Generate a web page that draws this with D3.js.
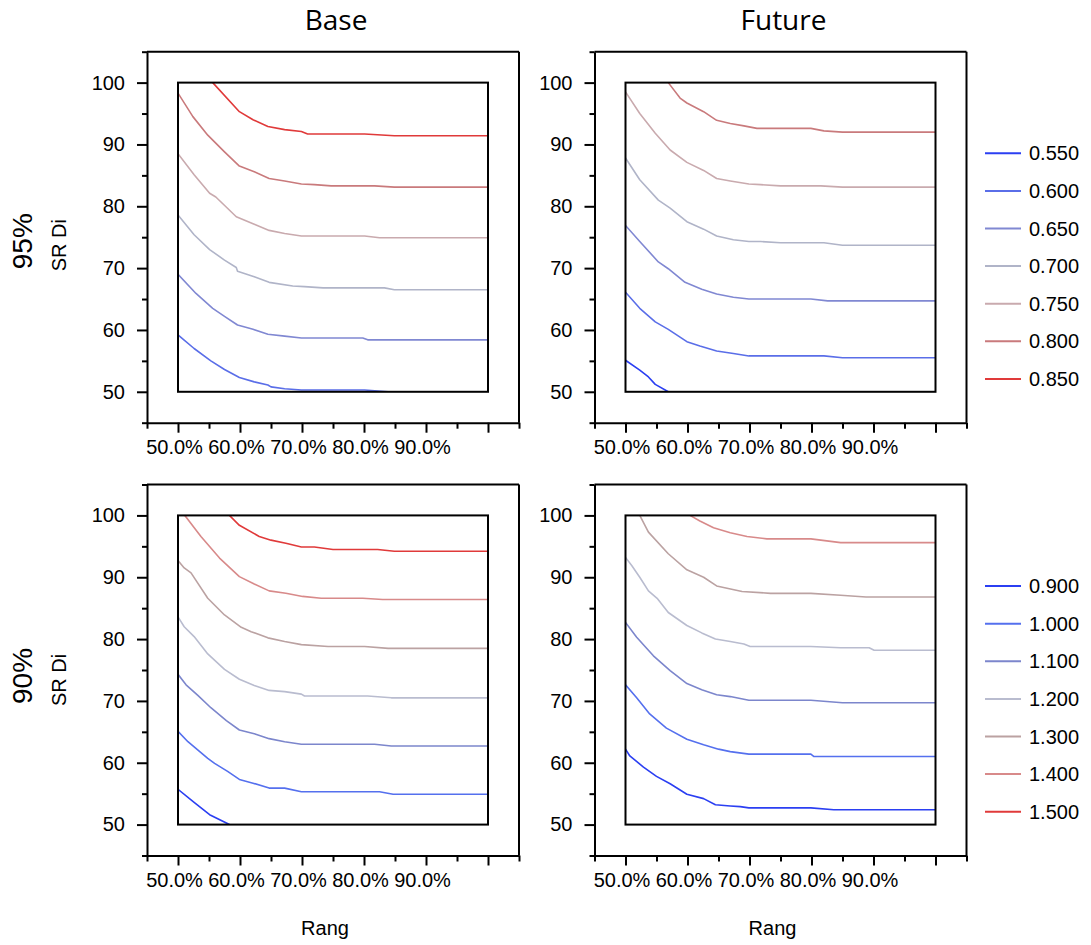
<!DOCTYPE html>
<html>
<head>
<meta charset="utf-8">
<script src="https://cdn.jsdelivr.net/npm/d3@7"></script>
<style>
  html, body { margin: 0; padding: 0; background: #fff; }
  svg { display: block; }
  text { font-family: "Liberation Sans", Arial, sans-serif; fill: #000; }
</style>
</head>
<body>
<svg id="chart" width="1091" height="945"></svg>
<script>
// ---------- DATA ----------
const colTitles = ["Base", "Future"];
const rowTitles = ["95%", "90%"];
const yAxisLabel = "SR Di";
const xAxisLabel = "Rang";

const levels95 = ["0.550", "0.600", "0.650", "0.700", "0.750", "0.800", "0.850"];
const levels90 = ["0.900", "1.000", "1.100", "1.200", "1.300", "1.400", "1.500"];
const colors95 = ["#2b3ff2", "#5a6ee8", "#8088d2", "#b0b4c8", "#c9aaae", "#c97a7c", "#e03a3a"];
const colors90 = ["#2b3ff2", "#5570ee", "#7c86cc", "#b9bccf", "#bba2a2", "#d88a8a", "#e03a3a"];

const yTickValues = [45, 50, 55, 60, 65, 70, 75, 80, 85, 90, 95, 100, 105];
const yTickLabels = [50, 60, 70, 80, 90, 100];
const xTickValues = [45, 50, 55, 60, 65, 70, 75, 80, 85, 90, 95, 100, 105];
const xTickLabels = [50, 60, 70, 80, 90];

// Base, 95%
const base95_0600 = [[50,59.2],[52.6,57.0],[55.3,55.0],[57.5,53.6],[59.9,52.3],[62.3,51.6],[64.5,51.1],[65.0,50.8],[67.2,50.5],[69.9,50.3],[80.1,50.3],[83.9,50.0],[86,50.0]];
const base95_0650 = [[50,69.0],[52.9,65.9],[55.6,63.5],[57.5,62.2],[59.6,60.8],[62.1,60.1],[64.5,59.3],[67.2,59.0],[69.9,58.7],[79.8,58.7],[80.6,58.4],[100,58.4]];
const base95_0700 = [[50,78.6],[52.6,75.4],[55.1,73.0],[57.5,71.3],[59.4,70.1],[59.6,69.5],[62.3,68.6],[64.7,67.7],[68.5,67.1],[70.4,67.0],[73.4,66.8],[83.3,66.8],[84.9,66.5],[100,66.5]];
const base95_0750 = [[50,88.5],[52.6,85.1],[55.1,82.1],[56.1,81.5],[59.4,78.3],[62.3,77.1],[64.7,76.1],[67.2,75.6],[69.9,75.2],[80.1,75.2],[82.5,74.9],[100,74.9]];
const base95_0800 = [[50,98.3],[52.4,94.5],[54.8,91.5],[57.5,88.8],[59.9,86.5],[62.3,85.6],[64.7,84.5],[67.2,84.1],[69.9,83.6],[72.0,83.5],[74.7,83.3],[81.7,83.3],[84.9,83.1],[100,83.1]];
const base95_0850 = [[55.6,100],[59.9,95.3],[62.1,94.0],[64.5,92.9],[67.2,92.4],[69.9,92.1],[70.9,91.7],[80.1,91.7],[84.9,91.4],[100,91.4]];

// Future, 95%
const future95_0550 = [[50,55.1],[52.3,53.5],[53.7,52.4],[54.8,51.2],[56.9,50.0]];
const future95_0600 = [[50,66.1],[52.3,63.5],[54.8,61.3],[56.9,60.1],[59.9,58.1],[62.0,57.4],[64.7,56.6],[67.4,56.2],[69.9,55.8],[82.0,55.8],[85.0,55.5],[100,55.5]];
const future95_0650 = [[50,76.9],[52.3,74.3],[55.3,71.0],[56.9,69.9],[59.6,67.7],[62.3,66.6],[64.7,65.8],[67.4,65.3],[69.9,65.0],[79.9,65.0],[82.6,64.7],[100,64.7]];
const future95_0700 = [[50,87.8],[52.3,84.3],[55.3,81.0],[57.2,79.7],[59.9,77.5],[62.6,76.3],[64.7,75.2],[67.4,74.6],[69.9,74.3],[71.8,74.3],[75.0,74.1],[82.0,74.1],[85.0,73.7],[100,73.7]];
const future95_0750 = [[50,98.5],[52.3,95.0],[54.8,91.8],[57.2,89.1],[59.9,87.1],[62.6,85.8],[64.7,84.5],[66.9,84.1],[69.9,83.6],[71.8,83.5],[75.0,83.3],[81.5,83.3],[85.0,83.1],[100,83.1]];
const future95_0800 = [[56.9,100],[58.8,97.5],[59.9,96.7],[62.6,95.3],[64.7,93.9],[66.9,93.4],[69.1,93.0],[71.2,92.6],[79.9,92.6],[82.0,92.2],[85.0,92.0],[100,92.0]];

// Base, 90%
const base90_0900 = [[50,55.7],[52.6,53.6],[55.1,51.6],[58.3,50.0]];
const base90_1000 = [[50,65.1],[51.6,63.4],[54.8,60.7],[55.9,59.9],[58.0,58.6],[59.9,57.3],[62.1,56.7],[64.7,55.9],[67.2,55.9],[69.9,55.3],[82.5,55.3],[84.7,54.9],[100,54.9]];
const base90_1100 = [[50,74.3],[51.3,72.6],[53.2,70.9],[55.3,68.9],[57.8,66.8],[59.9,65.3],[62.3,64.7],[64.7,63.9],[67.2,63.4],[69.9,63.0],[81.7,63.0],[84.4,62.7],[100,62.7]];
const base90_1200 = [[50,83.6],[51.0,82.0],[52.6,80.4],[54.8,77.6],[57.5,75.1],[59.9,73.5],[62.3,72.5],[64.7,71.7],[67.2,71.5],[69.9,71.1],[70.4,70.8],[80.6,70.8],[84.4,70.5],[100,70.5]];
const base90_1300 = [[50,92.7],[51.0,91.5],[52.1,90.7],[54.8,86.6],[57.5,83.9],[60.2,81.9],[61.8,81.2],[64.5,80.2],[67.2,79.6],[69.9,79.1],[74.2,78.8],[80.1,78.8],[83.9,78.5],[100,78.5]];
const base90_1400 = [[51.1,100],[53.7,96.6],[56.7,93.1],[59.9,90.1],[62.3,88.9],[64.7,87.8],[67.4,87.4],[70.1,86.9],[73.1,86.6],[79.8,86.6],[83.0,86.4],[100,86.4]];
const base90_1500 = [[58.3,100],[59.9,98.4],[63.1,96.6],[65.0,96.0],[67.4,95.5],[69.9,94.9],[72.0,94.9],[75.0,94.5],[82.2,94.5],[84.9,94.2],[100,94.2]];

// Future, 90%
const future90_0900 = [[50,62.2],[50.7,61.1],[52.9,59.3],[55.0,57.8],[57.2,56.6],[59.9,54.9],[62.6,54.2],[64.5,53.2],[66.9,53.0],[68.5,52.9],[69.9,52.7],[79.9,52.7],[83.6,52.4],[100,52.4]];
const future90_1000 = [[50,72.6],[51.8,70.5],[53.9,67.9],[56.6,65.6],[59.9,63.8],[62.6,62.9],[65.0,62.2],[66.9,61.8],[69.9,61.4],[79.9,61.4],[80.4,61.0],[100,61.0]];
const future90_1100 = [[50,82.7],[51.8,80.3],[54.5,77.3],[57.2,74.9],[59.9,72.8],[62.3,71.8],[64.7,71.0],[66.9,70.7],[69.9,70.1],[79.9,70.1],[85.0,69.7],[100,69.7]];
const future90_1200 = [[50,93.2],[51.0,91.9],[52.3,90.0],[53.7,87.8],[55.1,86.6],[56.9,84.3],[59.9,82.2],[62.3,81.0],[64.5,80.0],[66.9,79.6],[69.1,79.2],[70.1,78.8],[79.9,78.8],[84.7,78.6],[89.3,78.6],[90.1,78.2],[100,78.2]];
const future90_1300 = [[52.3,100],[53.7,97.3],[56.9,93.8],[59.9,91.2],[62.6,90.0],[64.7,88.6],[68.8,87.7],[73.4,87.4],[79.9,87.4],[84.7,87.1],[88.8,86.8],[100,86.8]];
const future90_1400 = [[60.4,100],[62.0,99.1],[64.2,98.0],[66.9,97.2],[69.6,96.6],[72.8,96.2],[79.9,96.2],[84.7,95.6],[100,95.6]];

// ---------- LAYOUT ----------
const panelW = 372, panelH = 371;
const colX = [147, 594.5];
const rowY = [51.7, 484.5];

const panels = [
  { row: 0, col: 0, levels: levels95, colors: colors95,
    series: { "0.600": base95_0600, "0.650": base95_0650, "0.700": base95_0700, "0.750": base95_0750, "0.800": base95_0800, "0.850": base95_0850 } },
  { row: 0, col: 1, levels: levels95, colors: colors95,
    series: { "0.550": future95_0550, "0.600": future95_0600, "0.650": future95_0650, "0.700": future95_0700, "0.750": future95_0750, "0.800": future95_0800 } },
  { row: 1, col: 0, levels: levels90, colors: colors90,
    series: { "0.900": base90_0900, "1.000": base90_1000, "1.100": base90_1100, "1.200": base90_1200, "1.300": base90_1300, "1.400": base90_1400, "1.500": base90_1500 } },
  { row: 1, col: 1, levels: levels90, colors: colors90,
    series: { "0.900": future90_0900, "1.000": future90_1000, "1.100": future90_1100, "1.200": future90_1200, "1.300": future90_1300, "1.400": future90_1400 } }
];

const svg = d3.select("#chart");

panels.forEach((p, i) => {
  const x0 = colX[p.col], y0 = rowY[p.row];
  const x = d3.scaleLinear().domain([45, 105]).range([x0, x0 + panelW]);
  const y = d3.scaleLinear().domain([45, 105]).range([y0 + panelH, y0]);
  const g = svg.append("g");

  // clip for contour lines
  const clipId = "clip" + i;
  svg.append("clipPath").attr("id", clipId).append("rect")
    .attr("x", x(50)).attr("y", y(100)).attr("width", x(100) - x(50)).attr("height", y(50) - y(100));

  // left axis
  const ya = g.append("g").attr("transform", `translate(${x0},0)`)
    .call(d3.axisLeft(y).tickValues(yTickValues).tickSizeOuter(0).tickSizeInner(10).tickPadding(12)
      .tickFormat(d => yTickLabels.includes(d) ? String(d) : ""));
  ya.selectAll(".tick line").attr("x2", d => (d % 10 === 0 ? -10 : -5)).attr("stroke-width", 2);
  ya.select(".domain").attr("stroke-width", 2);
  ya.selectAll("text").style("font-size", "20px").attr("font-family", null);

  // bottom axis
  const xa = g.append("g").attr("transform", `translate(0,${y0 + panelH})`)
    .call(d3.axisBottom(x).tickValues(xTickValues).tickSizeOuter(0).tickSizeInner(10).tickPadding(7)
      .tickFormat(d => xTickLabels.includes(d) ? d.toFixed(1) + "%" : ""));
  xa.selectAll(".tick line").attr("y2", d => (d % 10 === 0 ? 10 : 6)).attr("stroke-width", 2);
  xa.select(".domain").attr("stroke-width", 2);
  xa.selectAll("text").style("font-size", "20px").attr("font-family", null).attr("dx", -4);

  // top & right frame lines
  g.append("line").attr("x1", x(45)).attr("x2", x(105)).attr("y1", y(105)).attr("y2", y(105))
    .attr("stroke", "#000").attr("stroke-width", 2);
  g.append("line").attr("x1", x(105)).attr("x2", x(105)).attr("y1", y(105)).attr("y2", y(45))
    .attr("stroke", "#000").attr("stroke-width", 2);

  // contour lines
  const line = d3.line().x(d => x(d[0])).y(d => y(d[1]));
  const lg = g.append("g").attr("clip-path", `url(#${clipId})`);
  p.levels.forEach((lv, k) => {
    const data = p.series[lv];
    if (!data) return;
    lg.append("path").datum(data).attr("d", line)
      .attr("fill", "none").attr("stroke", p.colors[k]).attr("stroke-width", 1.6)
      .attr("stroke-linejoin", "round");
  });

  // inner box
  g.append("rect").attr("x", x(50)).attr("y", y(100))
    .attr("width", x(100) - x(50)).attr("height", y(50) - y(100))
    .attr("fill", "none").attr("stroke", "#000").attr("stroke-width", 2);

  // x label
  if (p.row === 1) {
    g.append("text").attr("x", x(75) - 8).attr("y", 935).attr("text-anchor", "middle")
      .style("font-size", "20px").text(xAxisLabel);
  }
  // column titles
  if (p.row === 0) {
    g.append("text").attr("x", x(75) + 3).attr("y", 30).attr("text-anchor", "middle")
      .style("font-family", "'Open Sans', sans-serif").style("font-size", "28px").text(colTitles[p.col]);
  }
  // row labels
  if (p.col === 0) {
    const cy = y(75) + 4 + (p.row === 1 ? 2 : 0);
    svg.append("text").attr("transform", `translate(32,${cy}) rotate(-90)`).attr("text-anchor", "middle")
      .style("font-size", "28px").text(rowTitles[p.row]);
    svg.append("text").attr("transform", `translate(66,${cy + 4}) rotate(-90)`).attr("text-anchor", "middle")
      .style("font-size", "20px").text(yAxisLabel);
  }
  // legend (right column)
  if (p.col === 1) {
    const lgd = svg.append("g");
    p.levels.forEach((lv, k) => {
      const ly = y0 + 101.6 + 37.6 * k;
      lgd.append("line").attr("x1", 985).attr("x2", 1021).attr("y1", ly).attr("y2", ly)
        .attr("stroke", p.colors[k]).attr("stroke-width", 2);
      lgd.append("text").attr("x", 1029).attr("y", ly).attr("dy", "0.35em")
        .style("font-size", "20px").text(lv);
    });
  }
});
</script>
</body>
</html>
